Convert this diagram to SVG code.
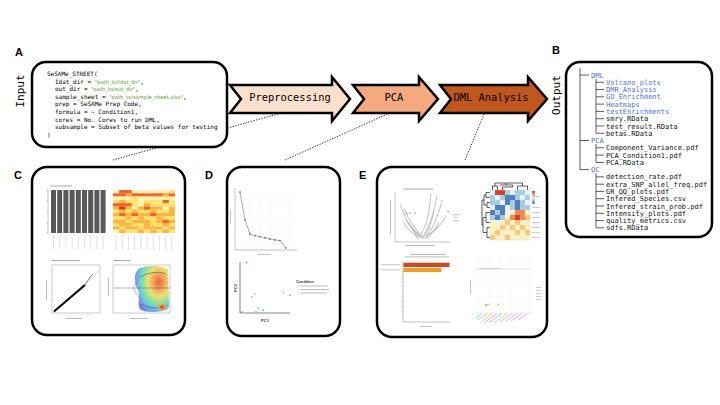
<svg xmlns="http://www.w3.org/2000/svg" width="720" height="405" viewBox="0 0 720 405">
<defs>
<style>
.lbl{font-family:"Liberation Sans",Arial,sans-serif;font-weight:bold;font-size:11px;fill:#000}
.mono{font-family:"DejaVu Sans Mono","Liberation Mono",monospace;fill:#000}
.code{font-family:"DejaVu Sans Mono","Liberation Mono",monospace;font-size:6px;fill:#000}
.str{font-family:"DejaVu Sans","Liberation Sans",sans-serif;font-size:5.2px;fill:#5e9a1a}
.tree{font-family:"DejaVu Sans Mono","Liberation Mono",monospace;font-size:7px;fill:#111}
.dir{fill:#4f6fe0}
.box{fill:#fff;stroke:#000;stroke-width:2.5}
.arrow{stroke:#000;stroke-width:2.5;stroke-linejoin:miter}
.dot{fill:none;stroke:#222;stroke-width:0.9;stroke-dasharray:1.4 1.3}
.br{stroke:#333;stroke-width:0.8;fill:none}
.tiny{fill:#aaa}
.ax{stroke:#888;stroke-width:0.5;fill:none}
.grid{stroke:#eee;stroke-width:0.4;fill:none}
.Y{fill:#fff5b0}.L{fill:#ffe46a}.O{fill:#fdb243}.R{fill:#f4622a}.D{fill:#e0301e}
.eB{fill:#4f81bd}.eb{fill:#a9cce3}.ew{fill:#e8f1f5}.ey{fill:#fdf3c2}.eo{fill:#fdc47d}.eO{fill:#f58a4f}.eR{fill:#d7402b}
.vd{fill:none;stroke:#b5b5b5;stroke-width:1.2;stroke-linecap:round;stroke-dasharray:0 1.3}
</style>
<radialGradient id="dens" cx="0.7" cy="0.35" r="0.75">
<stop offset="0" stop-color="#e5673e"/>
<stop offset="0.22" stop-color="#f2a15c"/>
<stop offset="0.42" stop-color="#ece071"/>
<stop offset="0.58" stop-color="#9fe08e"/>
<stop offset="0.74" stop-color="#66d3dc"/>
<stop offset="0.9" stop-color="#7c98f0"/>
<stop offset="1" stop-color="#6b7ee6"/>
</radialGradient>
<radialGradient id="spot" cx="0.5" cy="0.5" r="0.5">
<stop offset="0" stop-color="#d83a1e"/>
<stop offset="0.6" stop-color="#f09a4a"/>
<stop offset="1" stop-color="#f0d070" stop-opacity="0"/>
</radialGradient>
<linearGradient id="cbar" x1="0" y1="0" x2="0" y2="1">
<stop offset="0" stop-color="#d7402b"/>
<stop offset="0.5" stop-color="#fdf3c2"/>
<stop offset="1" stop-color="#4f81bd"/>
</linearGradient>
</defs>
<rect width="720" height="405" fill="#fff"/>

<!-- connectors -->
<g id="connectors">
<path class="dot" d="M113,160 L285,112"/>
<path class="dot" d="M285,160 L392,112"/>
<path class="dot" d="M465,160 L485,112"/>
</g>

<!-- labels -->
<text class="lbl" x="15" y="56">A</text>
<text class="lbl" x="552" y="54">B</text>
<text class="lbl" x="14" y="179">C</text>
<text class="lbl" x="205" y="179">D</text>
<text class="lbl" x="359" y="179">E</text>

<text class="mono" font-size="11" transform="translate(24,91) rotate(-90)" text-anchor="middle">Input</text>
<text class="mono" font-size="11" transform="translate(560,95) rotate(-90)" text-anchor="middle">Output</text>

<!-- Input node -->
<g id="input">
<rect class="box" x="32" y="62" width="195" height="85" rx="14"/>
<text class="code" x="47" y="76">SeSAMe_STREET(</text>
<text class="code" x="55" y="83.6">Idat_dir = <tspan class="str">"path_to/idat_dir"</tspan>,</text>
<text class="code" x="55" y="91.2">out_dir = <tspan class="str">"path_to/out_dir"</tspan>,</text>
<text class="code" x="55" y="98.8">sample_sheet = <tspan class="str">"path_to/sample_sheet.xlsx"</tspan>,</text>
<text class="code" x="55" y="106.4">prep = SeSAMe Prep Code,</text>
<text class="code" x="55" y="114">formula = ~ Condition1,</text>
<text class="code" x="55" y="121.6">cores = No. Cores to run DML,</text>
<text class="code" x="55" y="129.2">subsample = Subset of beta values for testing</text>
<text class="code" x="47" y="136.8">)</text>
</g>

<!-- Pipeline arrows -->
<g id="preprocessing">
<polygon class="arrow" fill="#fde0cc" points="230,85 332,85 332,77 350,99 332,121 332,113 230,113 241,99"/>
<text class="mono" font-size="10.4" x="290" y="100.5" text-anchor="middle">Preprocessing</text>
</g>
<g id="pca">
<polygon class="arrow" fill="#f4a97e" points="353,85 419,85 419,77 438,99 419,121 419,113 353,113 364,99"/>
<text class="mono" font-size="10.4" x="394" y="100.5" text-anchor="middle">PCA</text>
</g>
<g id="dml">
<polygon class="arrow" fill="#c1571b" points="440,85 528,85 528,77 547,99 528,121 528,113 440,113 451,99"/>
<text class="mono" font-size="10.4" x="491" y="100.5" text-anchor="middle">DML Analysis</text>
</g>

<!-- Output tree -->
<g id="output">
<rect class="box" x="566" y="62" width="146" height="175" rx="14"/>
<path class="br" d="M580,68 V169.6 M580,75 H589 M580,140.5 H589 M580,169.6 H589
M596,79 V133.3 M596,82.3 H604 M596,89.6 H604 M596,96.8 H604 M596,104.1 H604 M596,111.4 H604 M596,118.7 H604 M596,126 H604 M596,133.3 H604
M596,144 V162.4 M596,147.8 H604 M596,155.1 H604 M596,162.4 H604
M596,173 V227.9 M596,176.9 H604 M596,184.2 H604 M596,191.4 H604 M596,198.7 H604 M596,206 H604 M596,213.3 H604 M596,220.6 H604 M596,227.9 H604"/>
<g class="tree">
<text x="591" y="77.5" class="dir">DML</text>
<text x="606" y="84.8" class="dir">Volcano_plots</text>
<text x="606" y="92.1" class="dir">DMR_Analysis</text>
<text x="606" y="99.3" class="dir">GO_Enrichment</text>
<text x="606" y="106.6" class="dir">Heatmaps</text>
<text x="606" y="113.9" class="dir">testEnrichments</text>
<text x="606" y="121.2">smry.RData</text>
<text x="606" y="128.5">test_result.RData</text>
<text x="606" y="135.8">betas.RData</text>
<text x="591" y="143" class="dir">PCA</text>
<text x="606" y="150.3">Component_Variance.pdf</text>
<text x="606" y="157.6">PCA_Condition1.pdf</text>
<text x="606" y="164.9">PCA.RData</text>
<text x="591" y="172.1" class="dir">QC</text>
<text x="606" y="179.4">detection_rate.pdf</text>
<text x="606" y="186.7">extra_SNP_allel_freq.pdf</text>
<text x="606" y="193.9">GR_QQ_plots.pdf</text>
<text x="606" y="201.2">Infered_Species.csv</text>
<text x="606" y="208.5">Infered_strain_prob.pdf</text>
<text x="606" y="215.8">Intensity_plots.pdf</text>
<text x="606" y="223.1">quality_metrics.csv</text>
<text x="606" y="230.4">sdfs.RData</text>
</g>
</g>

<!-- Panel C: QC plots -->
<g id="qc-panel">
<rect class="box" x="32" y="167" width="153" height="168" rx="15"/>
<!-- bar chart -->
<rect class="tiny" x="50" y="185.5" width="22" height="1"/>
<path class="ax" d="M48,190 V233 M46.5,190 H48 M46.5,201 H48 M46.5,212 H48 M46.5,223 H48 M46.5,233 H48"/>
<g fill="#595959">
<rect x="51" y="190" width="5" height="43"/><rect x="57.2" y="190" width="5" height="43"/><rect x="63.4" y="190" width="5" height="43"/>
<rect x="69.6" y="190" width="5" height="43"/><rect x="75.8" y="190" width="5" height="43"/><rect x="82" y="190" width="5" height="43"/>
<rect x="88.2" y="190" width="5" height="43"/><rect x="94.4" y="190" width="5" height="43"/><rect x="100.6" y="190" width="5" height="43"/>
</g>
<path stroke="#ccc" stroke-width="0.6" d="M53.5,236 V249 M59.7,236 V249 M65.9,236 V249 M72.1,236 V249 M78.3,236 V249 M84.5,236 V249 M90.7,236 V249 M96.9,236 V249 M103.1,236 V249"/>
<!-- heatmap -->
<rect class="Y" x="113" y="190" width="62" height="3.3"/><rect class="R" x="119.2" y="190" width="12.4" height="3.3"/><rect class="L" x="168.8" y="190" width="6.2" height="3.3"/>
<rect class="R" x="113" y="193.3" width="62" height="3.3"/><rect class="O" x="125.4" y="193.3" width="6.2" height="3.3"/><rect class="O" x="162.6" y="193.3" width="6.2" height="3.3"/>
<rect class="Y" x="113" y="196.6" width="62" height="3.3"/><rect class="L" x="131.6" y="196.6" width="6.2" height="3.3"/>
<rect class="L" x="113" y="199.9" width="62" height="3.3"/><rect class="O" x="119.2" y="199.9" width="6.2" height="3.3"/><rect class="Y" x="137.8" y="199.9" width="6.2" height="3.3"/><rect class="R" x="162.6" y="199.9" width="6.2" height="3.3"/>
<rect class="L" x="113" y="203.2" width="62" height="3.3"/><rect class="R" x="113" y="203.2" width="18.6" height="3.3"/><rect class="Y" x="137.8" y="203.2" width="6.2" height="3.3"/><rect class="O" x="144" y="203.2" width="6.2" height="3.3"/>
<rect class="O" x="113" y="206.5" width="62" height="3.3"/><rect class="D" x="119.2" y="206.5" width="6.2" height="3.3"/><rect class="Y" x="131.6" y="206.5" width="6.2" height="3.3"/><rect class="R" x="144" y="206.5" width="6.2" height="3.3"/><rect class="Y" x="162.6" y="206.5" width="6.2" height="3.3"/>
<rect class="L" x="113" y="209.8" width="62" height="3.3"/><rect class="O" x="119.2" y="209.8" width="6.2" height="3.3"/><rect class="O" x="131.6" y="209.8" width="6.2" height="3.3"/><rect class="O" x="150.2" y="209.8" width="6.2" height="3.3"/><rect class="O" x="168.8" y="209.8" width="6.2" height="3.3"/>
<rect class="O" x="113" y="213.1" width="62" height="3.3"/><rect class="R" x="119.2" y="213.1" width="6.2" height="3.3"/><rect class="R" x="131.6" y="213.1" width="6.2" height="3.3"/><rect class="R" x="150.2" y="213.1" width="6.2" height="3.3"/>
<rect class="L" x="113" y="216.4" width="62" height="3.3"/><rect class="O" x="125.4" y="216.4" width="6.2" height="3.3"/><rect class="O" x="137.8" y="216.4" width="6.2" height="3.3"/><rect class="O" x="156.4" y="216.4" width="6.2" height="3.3"/>
<rect class="O" x="113" y="219.7" width="62" height="3.3"/><rect class="L" x="125.4" y="219.7" width="6.2" height="3.3"/><rect class="L" x="150.2" y="219.7" width="6.2" height="3.3"/><rect class="R" x="162.6" y="219.7" width="6.2" height="3.3"/>
<rect class="L" x="113" y="223" width="62" height="3.3"/><rect class="O" x="119.2" y="223" width="12.4" height="3.3"/><rect class="O" x="144" y="223" width="6.2" height="3.3"/><rect class="O" x="162.6" y="223" width="6.2" height="3.3"/>
<rect class="O" x="113" y="226.3" width="62" height="3.3"/><rect class="L" x="119.2" y="226.3" width="6.2" height="3.3"/><rect class="L" x="137.8" y="226.3" width="6.2" height="3.3"/><rect class="L" x="162.6" y="226.3" width="6.2" height="3.3"/>
<rect class="L" x="113" y="229.6" width="62" height="3.3"/><rect class="Y" x="113" y="229.6" width="6.2" height="3.3"/><rect class="O" x="119.2" y="229.6" width="6.2" height="3.3"/><rect class="O" x="137.8" y="229.6" width="6.2" height="3.3"/><rect class="O" x="150.2" y="229.6" width="6.2" height="3.3"/><rect class="O" x="162.6" y="229.6" width="6.2" height="3.3"/>
<path stroke="#ccc" stroke-width="0.6" d="M116,235 V250 M122.2,235 V250 M128.4,235 V250 M134.6,235 V250 M140.8,235 V250 M147,235 V250 M153.2,235 V250 M159.4,235 V250 M165.6,235 V250 M171.8,235 V250"/>
<!-- QQ plot -->
<rect class="tiny" x="52" y="260" width="28" height="1"/>
<rect x="52" y="265" width="48" height="48" fill="none" stroke="#999" stroke-width="0.5"/>
<path d="M53,312 L100,270" stroke="#aaa" stroke-width="0.5"/>
<path d="M54,311.5 L85,285" stroke="#000" stroke-width="2"/>
<path d="M85,285 L90,277 L93,274" stroke="#555" stroke-width="0.7" fill="none"/>
<path stroke="#bbb" stroke-width="0.4" d="M50,270 H52 M50,280 H52 M50,290 H52 M50,300 H52 M60,313 V315 M70,313 V315 M80,313 V315 M90,313 V315"/>
<rect class="tiny" x="66" y="318" width="16" height="0.8"/>
<rect class="tiny" x="46" y="280" width="0.8" height="20"/>
<!-- density plot -->
<rect class="tiny" x="113" y="260" width="18" height="1"/>
<rect x="113" y="265" width="57" height="48" fill="none" stroke="#999" stroke-width="0.5"/>
<path d="M140,268 C150,264.5 165,265.5 168,270 L169,306 C169,313 147,313 141,310 C136,306 141,296 138,290 C134,283 133,272 140,268 Z" fill="url(#dens)"/>
<path d="M141,277 C148,272 160,271 166,274 M141,304 C150,309 160,309 167,305" stroke="#2a6a50" stroke-width="0.6" fill="none"/>
<ellipse cx="162" cy="307" rx="5" ry="4" fill="url(#spot)"/>
<path d="M113,288 H170" stroke="#666" stroke-width="0.5"/>
<path d="M141,276 L133,288 L141,301" stroke="#888" stroke-width="0.6" fill="none"/>
<rect class="tiny" x="130" y="318" width="18" height="0.8"/>
<rect class="tiny" x="108" y="278" width="0.8" height="18"/>
</g>

<!-- Panel D: PCA plots -->
<g id="pca-panel">
<rect class="box" x="227" y="167" width="113" height="169" rx="15"/>
<!-- scree -->
<path class="grid" d="M240,188 V250 M250,188 V250 M260,188 V250 M270,188 V250 M280,188 V250 M290,188 V250 M235,195 H297 M235,207 H297 M235,219 H297 M235,231 H297 M235,243 H297"/>
<path class="ax" d="M235,188 V250 M235,250 H297"/>
<polyline points="240,192 245,220 250,234 255,235.7 260,236.7 265,237.7 270,239 275,240 280,240.5 286,248" fill="none" stroke="#777" stroke-width="0.6"/>
<g fill="#333">
<circle cx="240" cy="192" r="0.7"/><circle cx="245" cy="220" r="0.7"/><circle cx="250" cy="234" r="0.7"/><circle cx="255" cy="235.7" r="0.7"/><circle cx="260" cy="236.7" r="0.7"/><circle cx="265" cy="237.7" r="0.7"/><circle cx="270" cy="239" r="0.7"/><circle cx="275" cy="240" r="0.7"/><circle cx="280" cy="240.5" r="0.7"/><circle cx="286" cy="248" r="0.7"/>
</g>
<rect class="tiny" x="257" y="254" width="14" height="0.7"/>
<rect class="tiny" x="230" y="210" width="0.7" height="14"/>
<!-- scatter -->
<path d="M240,262 V313 H290" stroke="#333" stroke-width="0.6" fill="none"/>
<g>
<circle cx="246.7" cy="262.7" r="0.9" fill="#f08080"/>
<circle cx="251.7" cy="296.7" r="0.8" fill="#7ab"/>
<circle cx="255" cy="294" r="0.8" fill="#e88"/>
<circle cx="256" cy="311.7" r="0.8" fill="#9ab"/>
<circle cx="258.3" cy="308" r="0.9" fill="#7cc"/>
<circle cx="263.3" cy="310" r="0.9" fill="#5bd"/>
<circle cx="283.3" cy="292.7" r="0.8" fill="#e99"/>
<circle cx="290" cy="295.3" r="0.8" fill="#888"/>
<circle cx="241.7" cy="311.7" r="0.8" fill="#aaa"/>
</g>
<text x="265" y="322" font-family="Liberation Sans,Arial,sans-serif" font-size="4" font-weight="bold" fill="#333" text-anchor="middle">PC1</text>
<text transform="translate(237,288) rotate(-90)" font-family="Liberation Sans,Arial,sans-serif" font-size="4" font-weight="bold" fill="#333" text-anchor="middle">PC2</text>
<text x="296" y="282.5" font-family="Liberation Sans,Arial,sans-serif" font-size="3.8" font-weight="bold" fill="#333">Condition</text>
<circle cx="299" cy="286" r="0.5" fill="#e88"/><rect class="tiny" x="301" y="285.6" width="27" height="0.8"/>
<circle cx="299" cy="289.5" r="0.5" fill="#6c6"/><rect class="tiny" x="301" y="289.1" width="28" height="0.8"/>
<circle cx="299" cy="293" r="0.5" fill="#69d"/><rect class="tiny" x="301" y="292.6" width="26" height="0.8"/>
</g>

<!-- Panel E: DML plots -->
<g id="dml-panel">
<rect class="box" x="377" y="167" width="170" height="170" rx="15"/>
<!-- volcano -->
<rect class="tiny" x="403" y="188.5" width="30" height="1"/>
<path class="ax" d="M395,192 V242 H450"/>
<path class="vd" d="M422,238 Q408,228 400,204"/>
<path class="vd" d="M424,238 Q411,226 404,208"/>
<path class="vd" d="M420,236 Q412,230 406,220"/>
<path class="vd" d="M423,238 Q414,232 408,222"/>
<path class="vd" d="M423,236 Q432,224 437,195"/>
<path class="vd" d="M425,238 Q436,226 442,200"/>
<path class="vd" d="M421,234 Q429,222 431,193"/>
<path class="vd" d="M424,236 Q431,228 434,210"/>
<path class="vd" d="M426,236 Q438,230 446,216"/>
<path class="vd" d="M419,238 Q414,234 411,226"/>
<path class="vd" d="M418,237 Q410,233 403,222"/>
<path class="vd" d="M427,238 Q434,232 439,222"/>
<g fill="#7a7ad8"><circle cx="406.7" cy="213.3" r="0.8"/><circle cx="410" cy="213" r="0.8"/><circle cx="415" cy="213" r="0.8"/><circle cx="448" cy="211.7" r="0.8"/></g>
<rect class="tiny" x="405" y="245" width="30" height="0.8"/>
<rect class="tiny" x="390" y="200" width="0.8" height="34"/>
<rect class="tiny" x="453" y="214.5" width="7" height="0.7"/><rect class="tiny" x="453" y="217.5" width="5" height="0.7"/><rect class="tiny" x="453" y="220.5" width="6" height="0.7"/>
<!-- clustered heatmap -->
<path class="br" stroke="#999" stroke-width="0.4" d="M492.5,190 V186 H497.5 V190 M495,186 V183 H506 V185 M502.5,190 V187 H512.5 V185 H500 M517.5,190 V186 H527.5 V190 M522.5,186 V183 H506 M490,192.5 H486 V197.5 H490 M490,202.5 H487 V207.5 H490 M486,195 H484 V205 H487 M490,212.5 H486 V222.5 H490 M490,227.5 H487 V237.5 H490 M486,217.5 H483 V232.5 H487 M484,200 H482 V225 H483"/>
<rect class="ew" x="490" y="190" width="40" height="5"/><rect class="eR" x="495" y="190" width="10" height="5"/><rect class="eb" x="505" y="190" width="5" height="5"/><rect class="eb" x="515" y="190" width="10" height="5"/>
<rect class="eb" x="490" y="195" width="40" height="5"/><rect class="ew" x="495" y="195" width="5" height="5"/><rect class="eB" x="505" y="195" width="10" height="5"/><rect class="ew" x="520" y="195" width="5" height="5"/>
<rect class="eb" x="490" y="200" width="40" height="5"/><rect class="ew" x="500" y="200" width="5" height="5"/><rect class="eB" x="505" y="200" width="5" height="5"/><rect class="eB" x="515" y="200" width="5" height="5"/><rect class="ew" x="525" y="200" width="5" height="5"/>
<rect class="eb" x="490" y="205" width="40" height="5"/><rect class="ew" x="490" y="205" width="5" height="5"/><rect class="eB" x="495" y="205" width="10" height="5"/><rect class="ew" x="505" y="205" width="5" height="5"/><rect class="eB" x="515" y="205" width="5" height="5"/>
<rect class="ey" x="490" y="210" width="40" height="5"/><rect class="eB" x="490" y="210" width="5" height="5"/><rect class="eb" x="495" y="210" width="5" height="5"/><rect class="eB" x="500" y="210" width="5" height="5"/><rect class="ew" x="505" y="210" width="5" height="5"/><rect class="eO" x="515" y="210" width="10" height="5"/>
<rect class="ey" x="490" y="215" width="40" height="5"/><rect class="eb" x="490" y="215" width="5" height="5"/><rect class="eB" x="495" y="215" width="5" height="5"/><rect class="eb" x="500" y="215" width="5" height="5"/><rect class="eO" x="510" y="215" width="5" height="5"/><rect class="eR" x="515" y="215" width="5" height="5"/><rect class="eO" x="520" y="215" width="5" height="5"/><rect class="eo" x="525" y="215" width="5" height="5"/>
<rect class="ey" x="490" y="220" width="40" height="5"/><rect class="ew" x="495" y="220" width="5" height="5"/><rect class="eo" x="505" y="220" width="5" height="5"/><rect class="eo" x="515" y="220" width="5" height="5"/>
<rect class="ey" x="490" y="225" width="40" height="5"/><rect class="eo" x="500" y="225" width="5" height="5"/><rect class="eo" x="510" y="225" width="5" height="5"/><rect class="eo" x="520" y="225" width="5" height="5"/>
<rect class="ey" x="490" y="230" width="40" height="5"/><rect class="eo" x="495" y="230" width="5" height="5"/><rect class="eo" x="515" y="230" width="5" height="5"/><rect class="eo" x="525" y="230" width="5" height="5"/>
<rect class="ey" x="490" y="235" width="40" height="5"/><rect class="eo" x="490" y="235" width="5" height="5"/><rect class="eo" x="505" y="235" width="5" height="5"/>
<rect x="490" y="190" width="40" height="50" fill="none" stroke="#ccc" stroke-width="0.3"/>
<rect x="532" y="191" width="3" height="13" fill="url(#cbar)"/>
<g class="tiny"><rect x="532" y="196.5" width="8" height="0.6"/><rect x="532" y="207" width="8" height="0.6"/><rect x="532" y="212" width="8" height="0.6"/><rect x="532" y="217" width="8" height="0.6"/><rect x="532" y="222" width="8" height="0.6"/><rect x="532" y="227" width="8" height="0.6"/><rect x="532" y="232" width="8" height="0.6"/><rect x="532" y="237" width="8" height="0.6"/></g>
<!-- bar chart -->
<rect class="tiny" x="410" y="254" width="36" height="0.8"/>
<rect class="tiny" x="405" y="256.5" width="44" height="0.8"/>
<path class="ax" d="M403,261 V322 H450"/>
<path stroke="#bbb" stroke-width="0.4" d="M401,264 H403 M401,266.5 H403 M401,269 H403 M401,271.5 H403 M401,274 H403 M401,276.5 H403 M401,279 H403 M401,281.5 H403 M401,284 H403 M401,286.5 H403 M401,289 H403 M401,291.5 H403 M401,294 H403 M401,296.5 H403 M401,299 H403 M401,301.5 H403 M401,304 H403 M401,306.5 H403 M401,309 H403 M401,311.5 H403 M401,314 H403 M401,316.5 H403 M401,319 H403"/>
<rect x="403.5" y="262.7" width="46" height="4.3" fill="#d5451d"/>
<rect x="403.5" y="268" width="38" height="4" fill="#f39c1b"/>
<rect class="tiny" x="381" y="264.5" width="19" height="0.7"/>
<rect class="tiny" x="381" y="269.5" width="19" height="0.7"/>
<rect class="tiny" x="420" y="326" width="12" height="0.7"/>
<!-- dot plot -->
<path class="grid" d="M480,256 V313 M490,256 V313 M500,256 V313 M510,256 V313 M520,256 V313 M530,256 V313 M475,263 H532 M475,280 H532 M475,297 H532"/>
<path d="M476,269 H531" stroke="#ccc" stroke-width="0.6"/>
<rect class="tiny" x="480" y="268.5" width="20" height="0.5"/>
<rect class="tiny" x="470" y="280" width="0.7" height="14"/>
<g><circle cx="486" cy="305" r="0.9" fill="#7bc043"/><circle cx="488" cy="304.3" r="0.9" fill="#9c6"/><circle cx="498.3" cy="304.3" r="0.9" fill="#f39c1b"/></g>
<path d="M475,313 H532" stroke="#ddd" stroke-width="0.5"/>
<g stroke-width="0.6">
<path d="M482,313.5 L476,318" stroke="#6af"/><path d="M487,313.5 L478,320" stroke="#6c6"/><path d="M492,313.5 L481,322" stroke="#f90"/><path d="M497,313.5 L484,323" stroke="#e6c"/><path d="M502,313.5 L490,322" stroke="#3bd"/><path d="M507,313.5 L494,323" stroke="#9c3"/><path d="M512,313.5 L500,322" stroke="#f7a"/><path d="M517,313.5 L506,321" stroke="#c8f"/><path d="M522,313.5 L511,321" stroke="#6af"/><path d="M527,313.5 L518,320" stroke="#f6c"/>
</g>
<g class="tiny"><rect x="536" y="287" width="5" height="0.6"/><rect x="536" y="290" width="5" height="0.6"/><rect x="536" y="293" width="5" height="0.6"/><rect x="536" y="296" width="5" height="0.6"/><rect x="536" y="299" width="5" height="0.6"/></g>
</g>
</svg>
